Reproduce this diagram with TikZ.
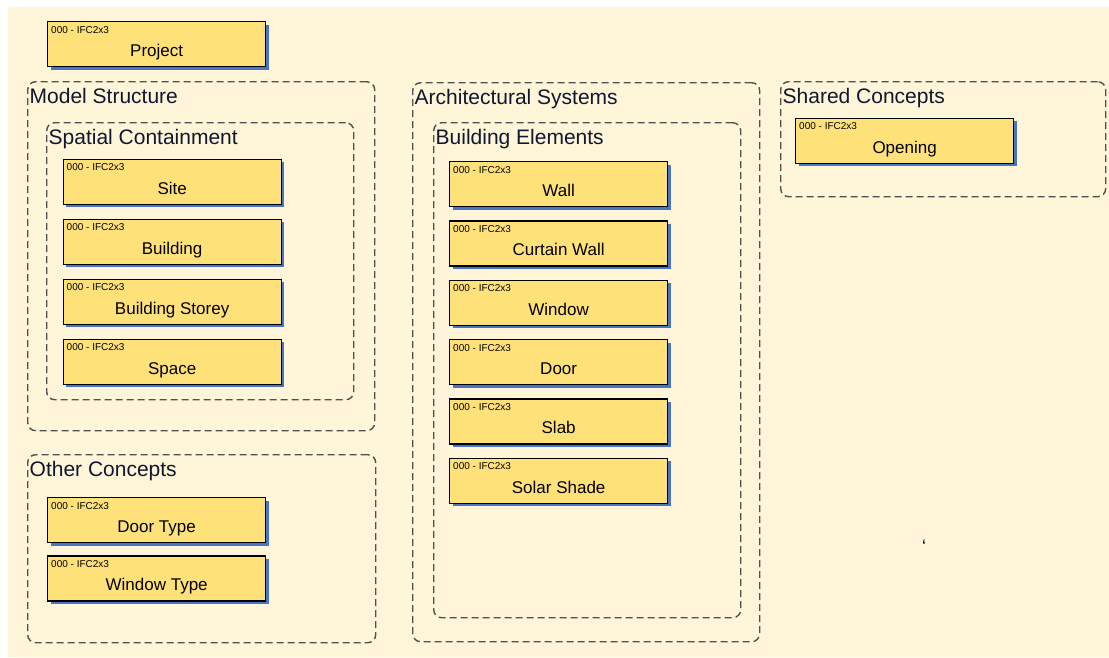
\documentclass[tikz,border=0pt]{standalone}
\usepackage{fontspec}
\setmainfont{Liberation Sans}
\usetikzlibrary{positioning, shadows}
\definecolor{paper}{HTML}{FFF5D8}
\definecolor{boxfill}{HTML}{FFE17A}
\definecolor{boxshadow}{HTML}{4A74C4}
\definecolor{groupline}{HTML}{505050}
\definecolor{titleink}{HTML}{101830}
\tikzset{%
  % Specifications for style of nodes:
  base/.style = {draw, line width=1.3pt, anchor=north west},
  tag/.style = {anchor=north west, inner xsep=4pt, inner ysep=4.5pt,
                text height=7.5pt, text depth=0pt,
                font=\fontsize{10}{12}\selectfont},
  elem/.style = {base, fill=boxfill, minimum width=218pt, minimum height=45pt,
                 inner sep=0pt, text height=35pt, text depth=10pt,
                 font=\fontsize{17}{20}\selectfont,
                 drop shadow={shadow xshift=3pt, shadow yshift=-3pt,
                              fill=boxshadow, opacity=1},
                 label={[tag]north west:000 - IFC2x3}},
  group/.style = {draw=groupline, line width=1.4pt, dash pattern=on 7pt off 4pt,
                  rounded corners=8pt, anchor=north west, inner sep=0pt},
  grouptitle/.style = {anchor=base west, inner sep=0pt, text=titleink,
                       font=\fontsize{21}{25}\selectfont},
}

\begin{document}
\begin{tikzpicture}[x=1pt, y=-1pt]
  \useasboundingbox (0,0) rectangle (1109,657);
  \fill [paper] (8,7) rectangle (1109,657);

  % Groups
  \node (modelstr) [group, minimum width=347pt, minimum height=349pt] at (27,81) {};
  \node (spatial) [group, minimum width=307pt, minimum height=277pt] at (46,122) {};
  \node (other) [group, minimum width=348pt, minimum height=188pt] at (27,454) {};
  \node (archsys) [group, minimum width=347pt, minimum height=559pt] at (412,82) {};
  \node (buildel) [group, minimum width=307pt, minimum height=495pt] at (433,122) {};
  \node (shared) [group, minimum width=325pt, minimum height=115pt] at (780,81) {};

  \node (modelstrtitle) [grouptitle] at ([shift={(2.5pt,-22.5pt)}]modelstr.north west) {Model Structure};
  \node (spatialtitle) [grouptitle] at ([shift={(2.5pt,-22.5pt)}]spatial.north west) {Spatial Containment};
  \node (othertitle) [grouptitle] at ([shift={(2.5pt,-22.5pt)}]other.north west) {Other Concepts};
  \node (archsystitle) [grouptitle] at ([shift={(2.5pt,-22.5pt)}]archsys.north west) {Architectural Systems};
  \node (buildeltitle) [grouptitle] at ([shift={(2.5pt,-22.5pt)}]buildel.north west) {Building Elements};
  \node (sharedtitle) [grouptitle] at ([shift={(2.5pt,-22.5pt)}]shared.north west) {Shared Concepts};

  % Concepts
  \node (project) [elem] at (47,21) {Project};

  \node (site) [elem] at (62.5,158.5) {Site};
  \node (building) [elem, below=13.7pt of site] {Building};
  \node (storey) [elem, below=13.7pt of building] {Building Storey};
  \node (space) [elem, below=13.7pt of storey] {Space};

  \node (doortype) [elem] at (47,497) {Door Type};
  \node (windowtype) [elem, below=12pt of doortype] {Window Type};

  \node (wall) [elem] at (449,161) {Wall};
  \node (curtainwall) [elem, below=13pt of wall] {Curtain Wall};
  \node (window) [elem, below=13pt of curtainwall] {Window};
  \node (door) [elem, below=13pt of window] {Door};
  \node (slab) [elem, below=13pt of door] {Slab};
  \node (solarshade) [elem, below=13pt of slab] {Solar Shade};

  \node (opening) [elem] at (795,117.5) {Opening};

  \node (tick) [inner sep=0pt, font=\fontsize{18}{20}\selectfont] at (924,546) {`};
\end{tikzpicture}
\end{document}
